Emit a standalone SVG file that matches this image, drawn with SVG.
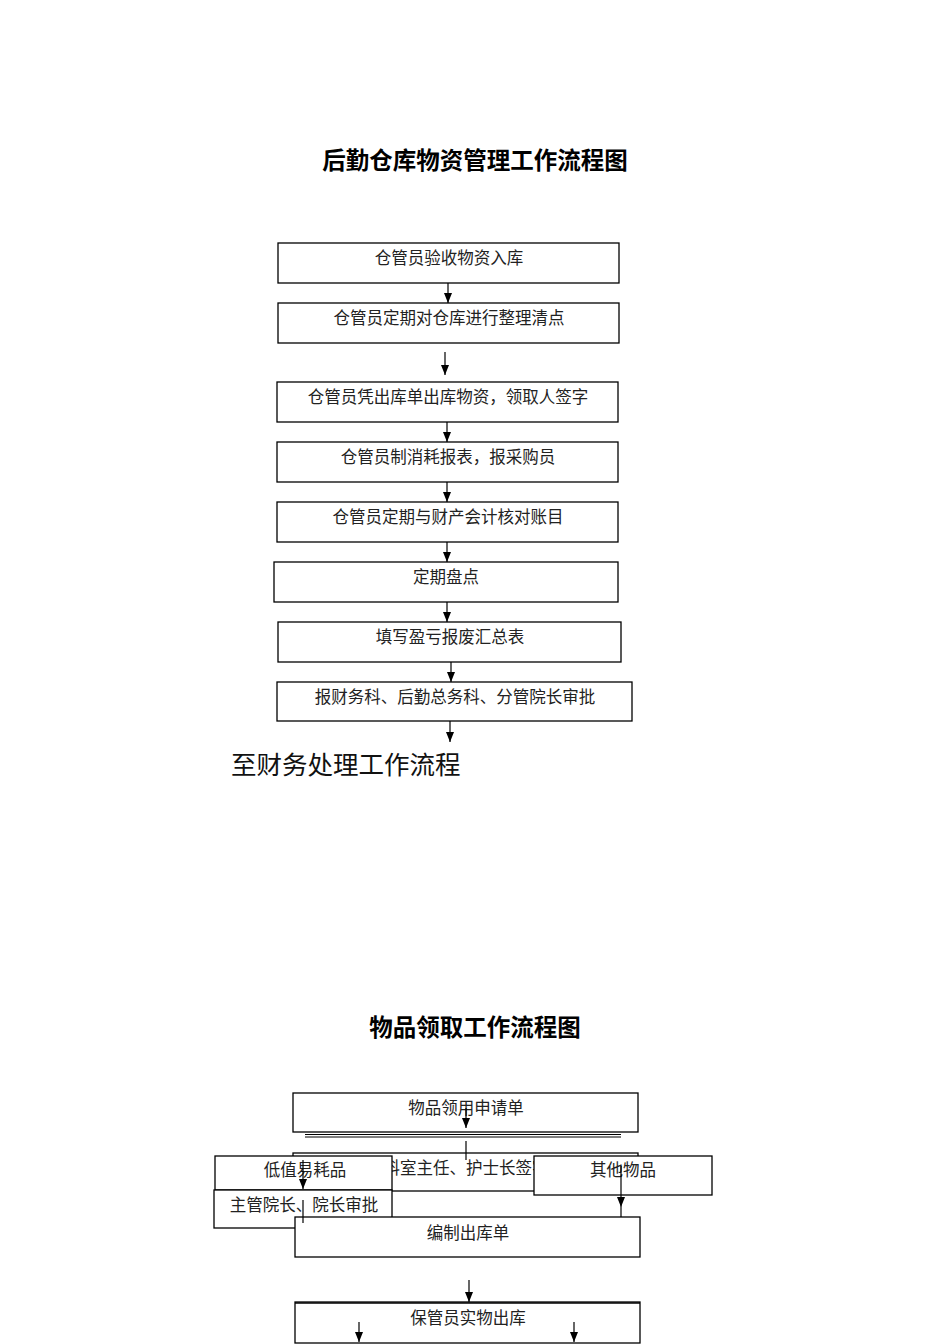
<svg xmlns="http://www.w3.org/2000/svg" width="950" height="1344" viewBox="0 0 950 1344">
<style>
.box{fill:#fff;stroke:#000;stroke-width:1.3}
.t{font-family:"Noto Sans CJK SC","Noto Sans CJK JP",sans-serif;font-size:16.5px;fill:#222;text-anchor:middle}
.title{font-family:"Noto Sans CJK SC","Noto Sans CJK JP",sans-serif;font-size:23.5px;font-weight:bold;fill:#000;text-anchor:middle}
.big{font-family:"Noto Sans CJK SC","Noto Sans CJK JP",sans-serif;font-size:25.5px;fill:#111}
.c{stroke:#000;stroke-width:1.2;fill:none}
.ca{stroke:#000;stroke-width:1.2;fill:none;marker-end:url(#ah)}
</style>
<defs>
<marker id="ah" viewBox="0 0 10 8" refX="10" refY="4" markerWidth="10" markerHeight="8" orient="auto" markerUnits="userSpaceOnUse">
<path d="M0,0 L10,4 L0,8 z" fill="#000"/>
</marker>
</defs>
<rect width="950" height="1344" fill="#fff"/>

<text class="title" x="475" y="169">后勤仓库物资管理工作流程图</text>

<g id="n1"><rect class="box" x="278" y="243" width="341" height="40"/><text class="t" x="449" y="264">仓管员验收物资入库</text></g>
<g id="n2"><rect class="box" x="278" y="303" width="341" height="40"/><text class="t" x="449" y="324">仓管员定期对仓库进行整理清点</text></g>
<g id="n3"><rect class="box" x="277" y="382" width="341" height="40"/><text class="t" x="448" y="403">仓管员凭出库单出库物资，领取人签字</text></g>
<g id="n4"><rect class="box" x="277" y="442" width="341" height="40"/><text class="t" x="448" y="463">仓管员制消耗报表，报采购员</text></g>
<g id="n5"><rect class="box" x="277" y="502" width="341" height="40"/><text class="t" x="448" y="523">仓管员定期与财产会计核对账目</text></g>
<g id="n6"><rect class="box" x="274" y="562" width="344" height="40"/><text class="t" x="446" y="583">定期盘点</text></g>
<g id="n7"><rect class="box" x="278" y="622" width="343" height="40"/><text class="t" x="450" y="643">填写盈亏报废汇总表</text></g>
<g id="n8"><rect class="box" x="277" y="682" width="355" height="39"/><text class="t" x="455" y="703">报财务科、后勤总务科、分管院长审批</text></g>
<g id="n9"><text class="big" x="231" y="774">至财务处理工作流程</text></g>

<g id="connectors1">
<line class="ca" x1="448" y1="283" x2="448" y2="303"/>
<line class="ca" x1="445" y1="352" x2="445" y2="375"/>
<line class="ca" x1="447" y1="422" x2="447" y2="442"/>
<line class="ca" x1="447" y1="482" x2="447" y2="502"/>
<line class="ca" x1="447" y1="542" x2="447" y2="562"/>
<line class="ca" x1="447" y1="602" x2="447" y2="622"/>
<line class="ca" x1="451" y1="662" x2="451" y2="682"/>
<line class="ca" x1="450" y1="721" x2="450" y2="742"/>
</g>

<text class="title" x="475" y="1036">物品领取工作流程图</text>

<g id="m1"><rect class="box" x="293" y="1093" width="345" height="39"/><text class="t" x="466" y="1114">物品领用申请单</text></g>
<g id="m1line"><line class="c" x1="305" y1="1134.5" x2="621" y2="1134.5"/><line class="c" x1="305" y1="1137" x2="621" y2="1137"/></g>
<g id="m2"><rect class="box" x="293" y="1153" width="345" height="38"/><text class="t" x="466" y="1174">科室主任、护士长签字</text></g>
<g id="m2line"><line class="c" x1="466" y1="1141" x2="466" y2="1160"/></g>
<g id="m3"><rect class="box" x="215" y="1156" width="177" height="34"/><text class="t" x="305" y="1176">低值易耗品</text></g>
<g id="m4"><rect class="box" x="214" y="1190" width="178" height="38"/><text class="t" x="304" y="1211">主管院长、院长审批</text></g>
<g id="m5"><rect class="box" x="534" y="1156" width="178" height="39"/><text class="t" x="623" y="1176">其他物品</text></g>
<g id="m6"><rect class="box" x="295" y="1217" width="345" height="40"/><text class="t" x="468" y="1239">编制出库单</text></g>
<g id="m7"><rect class="box" x="295" y="1302" width="345" height="41"/><line x1="295" y1="1303" x2="640" y2="1303" stroke="#000" stroke-width="1.5"/><text class="t" x="468" y="1324">保管员实物出库</text></g>

<g id="connectors2">
<line class="ca" x1="466" y1="1108" x2="466" y2="1128"/>
<line class="ca" x1="303" y1="1160" x2="303" y2="1189"/>
<line class="c" x1="303" y1="1200" x2="303" y2="1223"/>
<line class="ca" x1="621" y1="1166" x2="621" y2="1207"/>
<line class="c" x1="621" y1="1207" x2="621" y2="1217"/>
<line class="ca" x1="469" y1="1280" x2="469" y2="1302"/>
<line class="ca" x1="359" y1="1322" x2="359" y2="1342"/>
<line class="ca" x1="574" y1="1322" x2="574" y2="1342"/>
</g>
</svg>
